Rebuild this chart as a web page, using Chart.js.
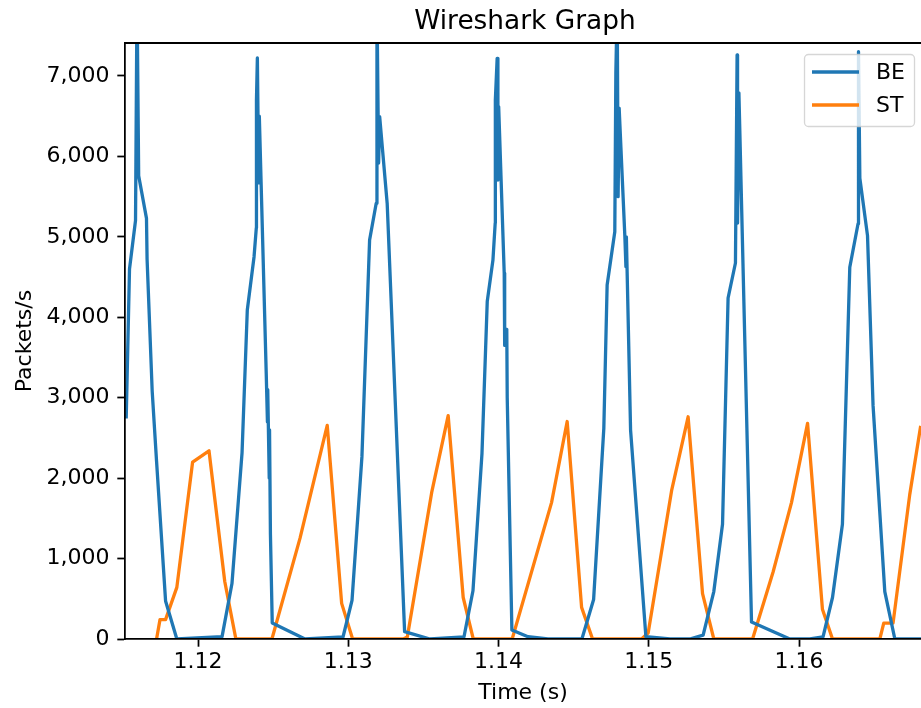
<!DOCTYPE html>
<html>
<head>
<meta charset="utf-8">
<script src="https://cdn.jsdelivr.net/npm/chart.js@4"></script>
<style>
html,body{margin:0;padding:0;background:#fff;overflow:hidden}
</style>
</head>
<body>
<canvas id="myChart" width="921" height="708"></canvas>
<script>
// axis ranges and ticks
let xMin=1.11514, xMax=1.16812;
let yMin=0, yMax=7410;
let xTicks=[1.12,1.13,1.14,1.15,1.16];
let yTicks=[0,1000,2000,3000,4000,5000,6000,7000];

// BE series (time in s, packets/s)
let beTime=[1.11522,1.11544,1.11584,1.11594,1.11605,1.11657,1.11661,1.11695,1.11724,1.11784,1.11859,
  1.1216,1.12226,1.12293,1.12328,1.12373,1.12388,1.12389,1.12395,1.12404,1.12408,1.12454,1.12462,1.12464,1.12474,1.12476,1.12482,1.12494,1.12712,
  1.12965,1.13025,1.13091,1.13142,1.13186,1.13191,1.13202,1.13209,1.13259,1.13375,1.13544,
  1.1377,1.1383,1.1389,1.13925,1.13963,1.13978,1.13979,1.13991,1.13996,1.14001,1.14038,1.14041,1.14055,1.14058,1.14089,1.14196,1.14329,
  1.14555,1.14633,1.14701,1.14723,1.14774,1.14781,1.1479,1.14796,1.14803,1.14841,1.14848,1.14851,1.14879,1.14981,1.15141,
  1.15273,1.15362,1.15433,1.15491,1.15528,1.15577,1.15588,1.15591,1.156,1.15684,1.15939,
  1.16072,1.1616,1.16223,1.16289,1.16338,1.16393,1.16396,1.16405,1.16456,1.16493,1.16571,1.16638,1.16812];
let bePackets=[2742,4601,5204,8000,5760,5229,4722,3080,2211,473,0,
  30,690,2313,4090,4753,5110,6700,7224,5670,6500,3300,2700,3100,2000,2600,1300,200,0,
  25,480,2267,4961,5417,7900,5918,6494,5417,91,0,
  25,600,2309,4195,4712,5172,6700,7220,5707,6620,4550,3650,3850,3000,112,29,0,
  0,492,2623,4401,5064,7037,7900,5499,6600,5002,4629,5000,2598,29,0,
  0,49,590,1426,4240,4675,7261,5172,6790,211,0,
  0,25,516,1426,4622,5163,7302,5728,5015,2901,590,0,0];

// ST series
let stTime=[1.11724,1.11747,1.11784,1.11859,1.11964,1.12073,1.12178,1.12252,
  1.12492,1.12679,1.1286,1.12956,1.13029,
  1.13366,1.13393,1.13555,1.13665,1.13765,1.13832,
  1.14091,1.14353,1.14457,1.14553,1.14626,
  1.14952,1.14996,1.15152,1.15262,1.15358,1.15433,
  1.15691,1.15828,1.1595,1.16057,1.16156,1.16223,
  1.1646,1.16538,1.16564,1.16626,1.16737,1.1681];
let stPackets=[0,241,241,642,2200,2340,715,0,
  0,1254,2655,443,0,
  0,25,1819,2778,516,0,
  0,1696,2704,393,0,
  0,74,1844,2763,565,0,
  0,836,1696,2680,369,0,
  0,0,197,197,1795,2650];

let seriesLabels=["BE","ST"];
let seriesColors=["#1f77b4","#ff7f0e"];

function toPoints(xs,ys){
  return xs.map((x,i)=>({x:x,y:ys[i]}));
}

let fontFam="'DejaVu Sans', sans-serif";

// top spine, legend and title drawn by hand like matplotlib
let extras={
  id:'extras',
  afterDraw(chart){
    const ctx=chart.ctx;
    const a=chart.chartArea;
    ctx.save();
    // top spine
    ctx.strokeStyle='#000';
    ctx.lineWidth=1.76;
    ctx.beginPath();
    ctx.moveTo(a.left-0.88,a.top);
    ctx.lineTo(a.right+2,a.top);
    ctx.stroke();

    // legend box
    let bx=804.5, by=54.5, bw=110, bh=72, r=4;
    ctx.beginPath();
    ctx.moveTo(bx+r,by);
    ctx.arcTo(bx+bw,by,bx+bw,by+bh,r);
    ctx.arcTo(bx+bw,by+bh,bx,by+bh,r);
    ctx.arcTo(bx,by+bh,bx,by,r);
    ctx.arcTo(bx,by,bx+bw,by,r);
    ctx.closePath();
    ctx.fillStyle='rgba(255,255,255,0.8)';
    ctx.fill();
    ctx.strokeStyle='rgba(204,204,204,0.8)';
    ctx.lineWidth=1.3;
    ctx.stroke();
    let rows=[72,105];
    chart.data.datasets.forEach((ds,i)=>{
      ctx.strokeStyle=ds.borderColor;
      ctx.lineWidth=3.3;
      ctx.beginPath();
      ctx.moveTo(812,rows[i]);
      ctx.lineTo(859,rows[i]);
      ctx.stroke();
      ctx.fillStyle='#000';
      ctx.font='22px '+fontFam;
      ctx.textAlign='left';
      ctx.textBaseline='middle';
      ctx.fillText(ds.label,876,rows[i]+1);
    });

    // title
    ctx.fillStyle='#000';
    ctx.font='26.4px '+fontFam;
    ctx.textAlign='center';
    ctx.textBaseline='alphabetic';
    ctx.fillText('Wireshark Graph',(a.left+a.right)/2+2,29);
    ctx.restore();
  }
};

new Chart("myChart",{
  type:"line",
  data:{
    datasets:[
      {label:seriesLabels[0],data:toPoints(beTime,bePackets),borderColor:seriesColors[0],backgroundColor:seriesColors[0],clip:0},
      {label:seriesLabels[1],data:toPoints(stTime,stPackets),borderColor:seriesColors[1],backgroundColor:seriesColors[1],clip:0}
    ]
  },
  options:{
    responsive:false,
    animation:false,
    devicePixelRatio:1,
    layout:{padding:{top:43,left:0,right:0,bottom:0}},
    elements:{
      point:{radius:0},
      line:{borderWidth:3.3,tension:0,borderJoinStyle:'round',borderCapStyle:'butt'}
    },
    plugins:{legend:{display:false},title:{display:false},tooltip:{enabled:false}},
    scales:{
      x:{
        type:'linear',
        min:xMin,max:xMax,
        afterBuildTicks:(s)=>{s.ticks=xTicks.map(v=>({value:v}));},
        afterFit:(s)=>{s.height=69;},
        grid:{drawOnChartArea:false,drawTicks:true,tickLength:7.7,tickWidth:1.76,tickColor:'#000'},
        border:{display:true,color:'#000',width:1.76,z:1},
        ticks:{color:'#000',font:{family:fontFam,size:22},padding:2,maxRotation:0,autoSkip:false,
          callback:(v)=>v.toFixed(2)},
        title:{display:true,text:'Time (s)',color:'#000',font:{family:fontFam,size:22},padding:{top:0,bottom:2}}
      },
      y:{
        min:yMin,max:yMax,
        afterBuildTicks:(s)=>{s.ticks=yTicks.map(v=>({value:v}));},
        afterFit:(s)=>{s.width=125;},
        grid:{drawOnChartArea:false,drawTicks:true,tickLength:7.7,tickWidth:1.76,tickColor:'#000'},
        border:{display:true,color:'#000',width:1.76,z:1},
        ticks:{color:'#000',font:{family:fontFam,size:22},padding:7.7,autoSkip:false,
          callback:(v)=>v.toLocaleString('en-US')},
        title:{display:true,text:'Packets/s',color:'#000',font:{family:fontFam,size:22},padding:{top:12,bottom:0}}
      }
    }
  },
  plugins:[extras]
});
</script>
</body>
</html>
